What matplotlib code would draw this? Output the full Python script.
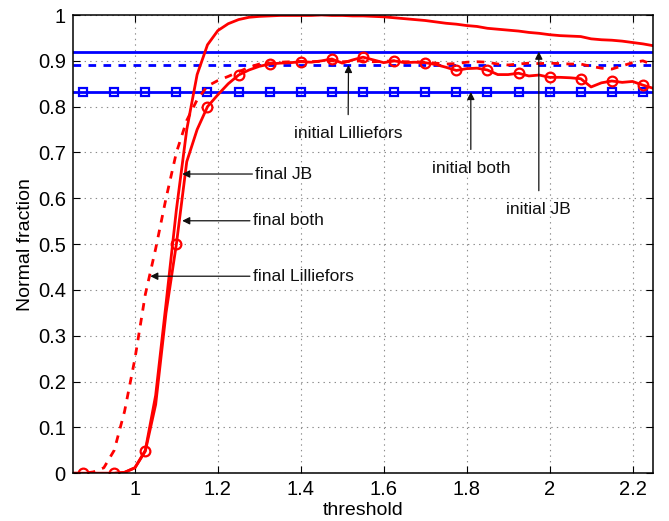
import numpy as np
import matplotlib
matplotlib.use("Agg")
from matplotlib import pyplot as plt
from matplotlib.ticker import FormatStrFormatter

# thresholds, step 0.025
threshold = np.linspace(0.85, 2.25, 57)

final_jb = [0, 0, 0, 0, 0, 0.002, 0.012,
            0.05, 0.17, 0.37, 0.575, 0.75, 0.87, 0.935, 0.966, 0.981, 0.99,
            0.995, 0.997, 0.998, 0.999, 0.999, 0.999, 0.999, 1.0, 0.999, 0.999,
            0.998, 0.998, 0.997, 0.996, 0.994, 0.992, 0.99, 0.988, 0.985, 0.982,
            0.98, 0.977, 0.975, 0.971, 0.969, 0.967, 0.965, 0.962, 0.96, 0.957,
            0.955, 0.954, 0.953, 0.948, 0.946, 0.945, 0.943, 0.94, 0.937, 0.933]

final_both = [0, 0, 0, 0, 0, 0.002, 0.012,
              0.048, 0.15, 0.35, 0.50, 0.68, 0.75, 0.80, 0.826, 0.85, 0.869,
              0.88, 0.888, 0.893, 0.895, 0.896, 0.898, 0.897, 0.90, 0.904, 0.895,
              0.902, 0.908, 0.902, 0.896, 0.90, 0.896, 0.897, 0.896, 0.892, 0.886,
              0.879, 0.883, 0.884, 0.880, 0.870, 0.870, 0.873, 0.867, 0.869, 0.864,
              0.864, 0.863, 0.861, 0.843, 0.852, 0.856, 0.853, 0.855, 0.847, 0.840]

final_lillie = [0, 0, 0.003, 0.012, 0.05, 0.135, 0.25,
                0.39, 0.49, 0.60, 0.70, 0.77, 0.815, 0.845, 0.857, 0.866, 0.876,
                0.886, 0.893, 0.895, 0.897, 0.898, 0.899, 0.898, 0.899, 0.900, 0.898,
                0.899, 0.900, 0.898, 0.899, 0.900, 0.898, 0.898, 0.897, 0.895, 0.893,
                0.894, 0.897, 0.898, 0.897, 0.893, 0.891, 0.893, 0.895, 0.894, 0.895,
                0.894, 0.893, 0.893, 0.888, 0.884, 0.882, 0.889, 0.896, 0.90, 0.891]

initial_jb = 0.92
initial_lillie = 0.891
initial_both = 0.832

plt.rcParams['font.family'] = ['Liberation Sans', 'DejaVu Sans']
plt.rcParams['lines.scale_dashes'] = False

fig = plt.figure(figsize=(6.69, 5.21), dpi=100)
ax = fig.add_axes([0.1087, 0.0916, 0.8678, 0.8796])

blue = (0, 0, 1)
red = (1, 0, 0)
lw = 2.0
dash = (5.5, 5.3)

ax.plot(threshold, np.full(len(threshold), initial_jb), color=blue, lw=lw)
ax.plot(threshold, np.full(len(threshold), initial_lillie), color=blue, lw=lw, ls='--', dashes=dash)
ax.plot(threshold, np.full(len(threshold), initial_both), color=blue, lw=lw,
        marker='s', ms=5.5, mfc='none', mew=1.6, markevery=slice(1, None, 3))

ax.plot(threshold, final_jb, color=red, lw=lw)
ax.plot(threshold, final_lillie, color=red, lw=lw, ls='--', dashes=dash)
ax.plot(threshold, final_both, color=red, lw=lw,
        marker='o', ms=7, mfc='none', mew=1.6, markevery=slice(1, None, 3))

arrow = dict(arrowstyle='-|>', color='#111111', lw=0.9, mutation_scale=11,
             shrinkA=0, shrinkB=0)
txt = dict(fontsize=12.5, color='#111111')

ax.annotate('final JB', xy=(1.114, 0.653), xytext=(1.29, 0.653),
            ha='left', va='center', arrowprops=arrow, **txt)
ax.annotate('final both', xy=(1.114, 0.551), xytext=(1.284, 0.551),
            ha='left', va='center', arrowprops=arrow, **txt)
ax.annotate('final Lilliefors', xy=(1.037, 0.43), xytext=(1.284, 0.43),
            ha='left', va='center', arrowprops=arrow, **txt)
ax.annotate('initial Lilliefors', xy=(1.515, initial_lillie), xytext=(1.514, 0.742),
            ha='center', va='center', arrowprops=dict(arrow, shrinkA=6), **txt)
ax.annotate('initial both', xy=(1.81, initial_both), xytext=(1.81, 0.666),
            ha='center', va='center', arrowprops=dict(arrow, shrinkA=6), **txt)
ax.annotate('initial JB', xy=(1.974, initial_jb), xytext=(1.974, 0.576),
            ha='center', va='center', arrowprops=dict(arrow, shrinkA=6), **txt)

ax.set_xlim(0.85, 2.25)
ax.set_ylim(0, 1)
ax.set_xticks([1, 1.2, 1.4, 1.6, 1.8, 2, 2.2])
ax.set_yticks(np.arange(0, 1.01, 0.1))
ax.xaxis.set_major_formatter(FormatStrFormatter('%g'))
ax.yaxis.set_major_formatter(FormatStrFormatter('%g'))
ax.tick_params(direction='in', length=5, width=0.8, labelsize=14.5,
               top=True, right=True, pad=5)
ax.grid(True, color='0.55', lw=0.8, dashes=(1, 3))
for s in ax.spines.values():
    s.set_linewidth(1.1)

ax.set_xlabel('threshold', fontsize=14, labelpad=2)
ax.set_ylabel('Normal fraction', fontsize=14, labelpad=3)

fig.savefig('out.png', dpi=100)
